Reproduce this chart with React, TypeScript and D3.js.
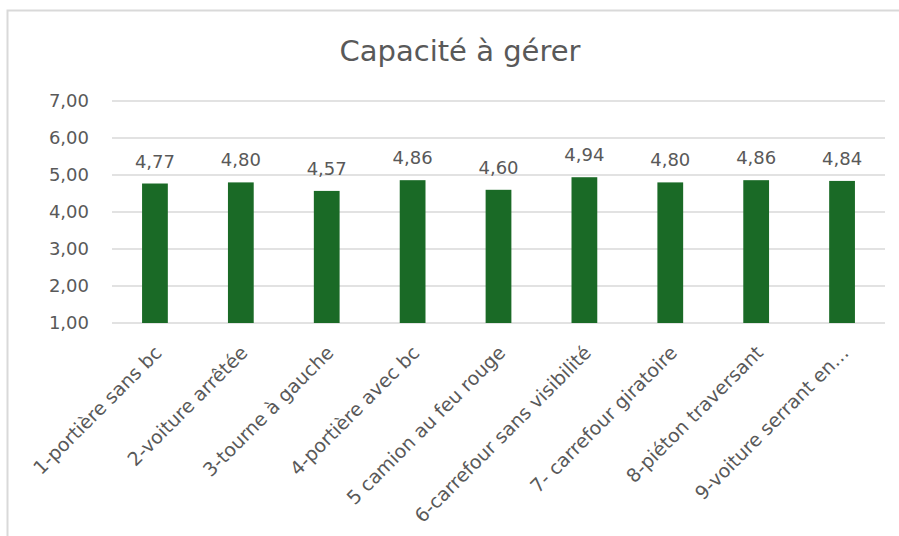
import React from "react";
import * as d3 from "d3";

const categories = [
  "1-portière sans bc",
  "2-voiture arrêtée",
  "3-tourne à gauche",
  "4-portière avec bc",
  "5 camion au feu rouge",
  "6-carrefour sans visibilité",
  "7- carrefour giratoire",
  "8-piéton traversant",
  "9-voiture serrant en…",
];
const values = [4.77, 4.8, 4.57, 4.86, 4.6, 4.94, 4.8, 4.86, 4.84];
const yTicks = [1, 2, 3, 4, 5, 6, 7];
const title = "Capacité à gérer";

const W = 899;
const H = 536;
const FONT = "'DejaVu Sans', sans-serif";
const TEXT = "#595959";
const GRID = "#d9d9d9";
const BAR = "#1a6a26";

const fmt = (v: number) => v.toFixed(2).replace(".", ",");

export default function App() {
  const left = 112;
  const right = 885;
  const top = 101;
  const bottom = 323;

  const x = d3
    .scaleBand<string>()
    .domain(categories)
    .range([left, right])
    .paddingInner(0.7)
    .paddingOuter(0.35);
  const y = d3.scaleLinear().domain([1, 7]).range([bottom, top]);

  return (
    <svg
      width={W}
      height={H}
      style={{ position: "absolute", left: 0, top: 0, background: "#fff" }}
      fontFamily={FONT}
    >
      <rect x={0} y={0} width={W} height={H} fill="#fff" />
      <path d={`M7.5,${H} V10.5 H${W}`} fill="none" stroke={GRID} strokeWidth={2} />
      <text x={460} y={61} textAnchor="middle" fontSize={29} fill={TEXT}>
        {title}
      </text>
      {yTicks.map((t) => (
        <g key={t}>
          <line x1={left} x2={right} y1={y(t)} y2={y(t)} stroke={GRID} strokeWidth={1.5} />
          <text x={89} y={y(t)} dy="0.36em" textAnchor="end" fontSize={18} fill={TEXT}>
            {fmt(t)}
          </text>
        </g>
      ))}
      {categories.map((c, i) => {
        const bx = x(c) as number;
        const cx = bx + x.bandwidth() / 2;
        return (
          <g key={c}>
            <rect
              x={bx}
              y={y(values[i])}
              width={x.bandwidth()}
              height={y(1) - y(values[i])}
              fill={BAR}
            />
            <text
              x={cx}
              y={y(values[i]) - 16}
              textAnchor="middle"
              fontSize={18}
              fill={TEXT}
            >
              {fmt(values[i])}
            </text>
            <text
              transform={`translate(${cx + 8},${bottom + 31}) rotate(-45)`}
              textAnchor="end"
              fontSize={19}
              fill={TEXT}
            >
              {c}
            </text>
          </g>
        );
      })}
    </svg>
  );
}
